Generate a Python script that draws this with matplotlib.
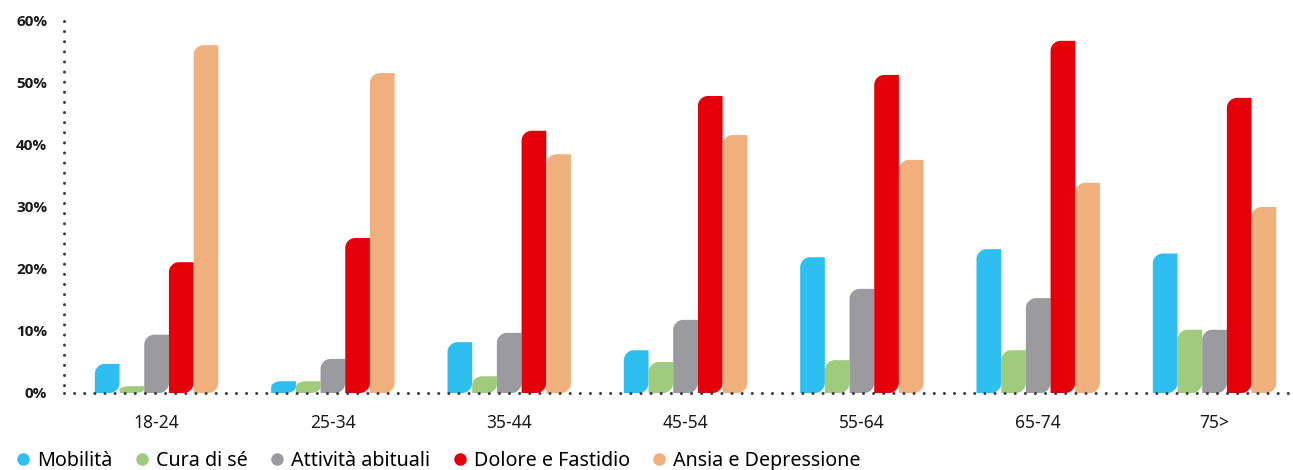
import matplotlib
matplotlib.use("Agg")
import matplotlib.pyplot as plt
import numpy as np
from matplotlib.path import Path
from matplotlib.patches import PathPatch
from matplotlib.lines import Line2D

# Fasce d'età e quote (%) per dimensione
age_groups = ["18-24", "25-34", "35-44", "45-54", "55-64", "65-74", "75>"]
series_names = ["Mobilità", "Cura di sé", "Attività abituali", "Dolore e Fastidio", "Ansia e Depressione"]
mobilita = [4.7, 1.9, 8.2, 6.9, 21.9, 23.2, 22.5]
cura_di_se = [1.1, 1.9, 2.7, 5.0, 5.3, 6.9, 10.2]
attivita = [9.4, 5.5, 9.7, 11.8, 16.8, 15.3, 10.2]
dolore = [21.1, 25.0, 42.3, 47.9, 51.3, 56.8, 47.6]
ansia = [56.1, 51.6, 38.5, 41.6, 37.6, 33.9, 30.0]
yticks = [0, 10, 20, 30, 40, 50, 60]

colors = ["#2EBFF0", "#A0CB7D", "#9B9A9F", "#E30008", "#EFB07D"]
dot_color = "#3C3C3C"

plt.rcParams["font.family"] = ["Noto Sans", "DejaVu Sans"]

W, H = 1293, 470
fig = plt.figure(figsize=(W / 100, H / 100), dpi=100)
ax = fig.add_axes([64 / W, 77 / H, (W - 64) / W, (393 - 21) / H])
ax.set_xlim(-0.525, 6.445)
ax.set_ylim(0, 60)

x = np.arange(len(age_groups))
width = 0.14
all_series = [mobilita, cura_di_se, attivita, dolore, ansia]

# radius of the rounded corners, in pixels
radius_px = 10
kappa = 0.5523


def leaf_path(x0, y0, w, h, rx, ry):
    # rounded top-left and bottom-right corners
    x1, y1 = x0 + w, y0 + h
    ry = min(ry, h / 2)
    rx = min(rx, w / 2)
    verts = [
        (x0, y0),
        (x0, y1 - ry),
        (x0, y1 - ry + kappa * ry), (x0 + rx - kappa * rx, y1), (x0 + rx, y1),
        (x1, y1),
        (x1, y0 + ry),
        (x1, y0 + ry - kappa * ry), (x1 - rx + kappa * rx, y0), (x1 - rx, y0),
        (x0, y0),
    ]
    codes = [Path.MOVETO, Path.LINETO,
             Path.CURVE4, Path.CURVE4, Path.CURVE4,
             Path.LINETO, Path.LINETO,
             Path.CURVE4, Path.CURVE4, Path.CURVE4,
             Path.CLOSEPOLY]
    return Path(verts, codes)


fig.canvas.draw()
bbox = ax.get_window_extent()
rx = radius_px * (ax.get_xlim()[1] - ax.get_xlim()[0]) / bbox.width
ry = radius_px * (ax.get_ylim()[1] - ax.get_ylim()[0]) / bbox.height

for i, (vals, color) in enumerate(zip(all_series, colors)):
    offset = (i - 2) * width
    bars = ax.bar(x + offset, vals, width, color=color)
    for rect in bars:
        p = leaf_path(rect.get_x(), rect.get_y(), rect.get_width(), rect.get_height(), rx, ry)
        ax.add_patch(PathPatch(p, facecolor=color, edgecolor="none", zorder=2))
        rect.set_visible(False)

# dotted axis lines
for s in ax.spines.values():
    s.set_visible(False)
dot_style = dict(color=dot_color, linewidth=2.2, linestyle=(0, (0.01, 3.3)),
                 dash_capstyle="round", solid_capstyle="round", clip_on=False, zorder=3)
x_left = ax.get_xlim()[0]
ax.plot([x_left, ax.get_xlim()[1]], [0, 0], **dot_style)
ax.plot([x_left, x_left], [60, 0], **dot_style)

ax.set_yticks(yticks)
ax.set_yticklabels([f"{v}%" for v in yticks], fontsize=11, fontweight="bold",
                   family=["Open Sans", "DejaVu Sans"], color="#1A1A1A")
ax.set_xticks(x)
ax.set_xticklabels(age_groups, fontsize=12.5, color="#1A1A1A")
ax.tick_params(axis="y", length=0, pad=12)
ax.tick_params(axis="x", length=0, pad=15)

handles = [Line2D([], [], marker="o", linestyle="none", markersize=9,
                  markerfacecolor=c, markeredgecolor="none") for c in colors]
fig.legend(handles, series_names, loc="center left", bbox_to_anchor=(0.012, 1 - 461 / H),
           ncol=5, frameon=False, fontsize=14.2, handletextpad=0.3,
           columnspacing=1.1, handlelength=0.8, borderaxespad=0, borderpad=0)

fig.savefig("out.png", dpi=100)
